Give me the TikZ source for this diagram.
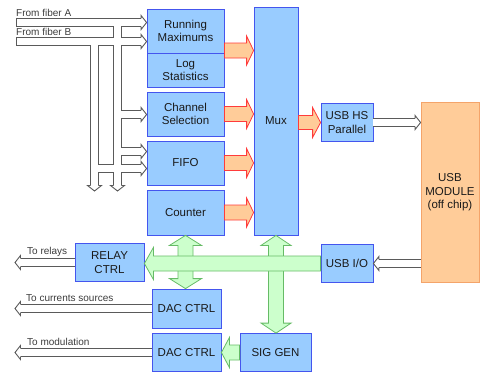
\documentclass[tikz,border=0pt]{standalone}
\usepackage{fontspec}
\setmainfont{Liberation Sans}
\usetikzlibrary{calc}
\definecolor{boxfill}{HTML}{99CCFF}
\definecolor{boxdraw}{HTML}{4455EE}
\definecolor{orfill}{HTML}{FFCC99}
\definecolor{ordraw}{HTML}{FF3B3B}
\definecolor{modfill}{HTML}{FFCC99}
\definecolor{moddraw}{HTML}{F4A46A}
\definecolor{grfill}{HTML}{CCFFCC}
\definecolor{grdraw}{HTML}{66BB66}
\definecolor{ribgray}{HTML}{5A5A5A}
\definecolor{txt}{HTML}{1A1A1A}
% single fat arrow: style, tail, tip, shaft half width, head half width, head length
\newcommand\fatarr[6]{\draw[#1] ($(#2)!#4!90:(#3)$) -- ($(#3)!#6!(#2)!#4!-90:(#2)$) -- ($(#3)!#6!(#2)!#5!-90:(#2)$) -- (#3) -- ($(#3)!#6!(#2)!#5!90:(#2)$) -- ($(#3)!#6!(#2)!#4!90:(#2)$) -- ($(#2)!#4!-90:(#3)$) -- cycle;}
% double fat arrow
\newcommand\fatdbl[6]{\draw[#1] (#2) -- ($(#2)!#6!(#3)!#5!90:(#3)$) -- ($(#2)!#6!(#3)!#4!90:(#3)$) -- ($(#3)!#6!(#2)!#4!-90:(#2)$) -- ($(#3)!#6!(#2)!#5!-90:(#2)$) -- (#3) -- ($(#3)!#6!(#2)!#5!90:(#2)$) -- ($(#3)!#6!(#2)!#4!90:(#2)$) -- ($(#2)!#6!(#3)!#4!-90:(#3)$) -- ($(#2)!#6!(#3)!#5!-90:(#3)$) -- cycle;}
% hollow ribbon network
\newcommand\ribnet[1]{%
 \draw[#1] (fAs) -- (rm.west |- fAs);
 \draw[#1] (fBs) -- (rm.west |- fBs);
 \draw[#1] (jA) -- (eA);
 \draw[#1] (jB) -- (eB);
 \draw[#1] (chA) -- (cs.west |- chA);
 \draw[#1] (fiA) -- (fifo.west |- fiA);
 \draw[#1] (fiB) -- (fifo.west |- fiB);
 \draw[#1] (relay.west) -- (tR);
 \draw[#1] (dac1.west) -- (tC);
 \draw[#1] (dac2.west) -- (tM);
 \draw[#1] (usbhs.east) -- (usbmod.west |- usbhs.east);
 \draw[#1] (usbmod.west |- usbio.east) -- (usbio.east);
}
\tikzset{
 box/.style={draw=boxdraw, fill=boxfill, line width=0.8pt, text=txt, font=\fontsize{11.5}{13.5}\selectfont, align=center, inner sep=0pt},
 modbox/.style={box, draw=moddraw, fill=modfill},
 oarr/.style={draw=ordraw, fill=orfill, line width=0.8pt},
 garr/.style={draw=grdraw, fill=grfill, line width=0.8pt},
 lab/.style={font=\fontsize{10}{12}\selectfont, text=txt!85, inner sep=0pt, anchor=base west},
 rib1/.style={draw=ribgray, line width=9pt, shorten >=5pt},
 rib2/.style={draw=white, line width=7pt, shorten >=5pt},
 ribend/.style={draw=ribgray, line width=1pt},
 hhead/.pic={
  \fill[white] (-5.5,-4.5) -- (-5.5,-7) -- (0,0) -- (-5.5,7) -- (-5.5,4.5) -- cycle;
  \draw[ribgray, line width=0.9pt] (-5.5,-4.2) -- (-5.5,-7) -- (0,0) -- (-5.5,7) -- (-5.5,4.2);
 }
}
\begin{document}
\begin{tikzpicture}[x=1pt, y=-1pt]
\useasboundingbox (0,0) rectangle (480,372);
% boxes
\node[box, minimum width=77pt, minimum height=44pt] (rm) at (185.5,31) {Running\\Maximums};
\node[box, minimum width=77pt, minimum height=34pt] (ls) at (185.5,70) {Log\\Statistics};
\node[box, minimum width=77pt, minimum height=44pt] (cs) at (185.5,114) {Channel\\Selection};
\node[box, minimum width=77pt, minimum height=44pt] (fifo) at (185.5,163) {FIFO};
\node[box, minimum width=77pt, minimum height=45pt] (cnt) at (185.5,212.5) {Counter};
\node[box, minimum width=44pt, minimum height=228pt] (mux) at (276,121) {Mux};
\node[box, minimum width=52pt, minimum height=38pt] (usbhs) at (347,122.5) {USB HS\\Parallel};
\node[modbox, minimum width=58pt, minimum height=180pt] (usbmod) at (450,192.5) {USB\\MODULE\\(off chip)};
\node[box, minimum width=52pt, minimum height=38pt] (usbio) at (347,263.5) {USB I/O};
\node[box, minimum width=69pt, minimum height=38pt] (relay) at (109.5,262.5) {RELAY\\CTRL};
\node[box, minimum width=69pt, minimum height=39pt] (dac1) at (186.5,308.5) {DAC CTRL};
\node[box, minimum width=69pt, minimum height=38pt] (dac2) at (186.5,352.5) {DAC CTRL};
\node[box, minimum width=71pt, minimum height=38pt] (sig) at (275.5,352.5) {SIG GEN};
% coordinates of the hollow ribbons
\coordinate (fAs) at (16,22.5);
\coordinate (fBs) at (16,41.5);
\coordinate (jA) at (117.5,22.5);
\coordinate (jB) at (94.5,41.5);
\coordinate (eA) at (117.5,191);
\coordinate (eB) at (94.5,191);
\coordinate (chA) at (117.5,114.5);
\coordinate (fiA) at (117.5,151.5);
\coordinate (fiB) at (94.5,168.5);
\coordinate (tR) at (15,262.5);
\coordinate (tC) at (15,308.5);
\coordinate (tM) at (15,352.5);
% hollow ribbons
\ribnet{rib1}
\ribnet{rib2}
\draw[ribend] ([yshift=4.5pt]fAs) -- ([yshift=-4.5pt]fAs);
\draw[ribend] ([yshift=4.5pt]fBs) -- ([yshift=-4.5pt]fBs);
\pic at (rm.west |- fAs) {hhead};
\pic at (rm.west |- fBs) {hhead};
\pic at (cs.west |- chA) {hhead};
\pic at (fifo.west |- fiA) {hhead};
\pic at (fifo.west |- fiB) {hhead};
\pic[rotate=-90] at (eA) {hhead};
\pic[rotate=-90] at (eB) {hhead};
\pic[rotate=180] at (tR) {hhead};
\pic[rotate=180] at (tC) {hhead};
\pic[rotate=180] at (tM) {hhead};
\pic at (usbmod.west |- usbhs.east) {hhead};
\pic[rotate=180] at (usbio.east) {hhead};
% orange arrows
\coordinate (o1s) at (rm.east |- 0,50.5);
\coordinate (o1e) at (mux.west |- 0,50.5);
\coordinate (o2e) at (mux.west |- cs.east);
\coordinate (o3e) at (mux.west |- fifo.east);
\coordinate (o4e) at (mux.west |- cnt.east);
\coordinate (o5s) at (mux.east |- usbhs.west);
\fatarr{oarr}{o1s}{o1e}{7.5pt}{14.5pt}{7pt}
\fatarr{oarr}{cs.east}{o2e}{7.5pt}{14.5pt}{7pt}
\fatarr{oarr}{fifo.east}{o3e}{7.5pt}{14.5pt}{7pt}
\fatarr{oarr}{cnt.east}{o4e}{7.5pt}{14.5pt}{7pt}
\fatarr{oarr}{o5s}{usbhs.west}{7pt}{15pt}{8pt}
% green arrows
\coordinate (g1e) at (dac1.north -| cnt.south);
\coordinate (g2e) at (sig.north -| mux.south);
\coordinate (g3e) at (relay.east |- usbio.west);
\fatdbl{garr}{cnt.south}{g1e}{7.5pt}{16pt}{10pt}
\fatdbl{garr}{mux.south}{g2e}{7.5pt}{15pt}{10pt}
\fatarr{garr}{usbio.west}{g3e}{7.5pt}{16pt}{9pt}
\fatarr{garr}{sig.west}{dac2.east}{7.5pt}{15pt}{8pt}
% labels
\node[lab] (lA) at (16,16.5) {From fiber A};
\node[lab] (lB) at (16,35.5) {From fiber B};
\node[lab] (lR) at (27,254) {To relays};
\node[lab] (lC) at (26,301) {To currents sources};
\node[lab] (lM) at (27,345.5) {To modulation};
\end{tikzpicture}
\end{document}
